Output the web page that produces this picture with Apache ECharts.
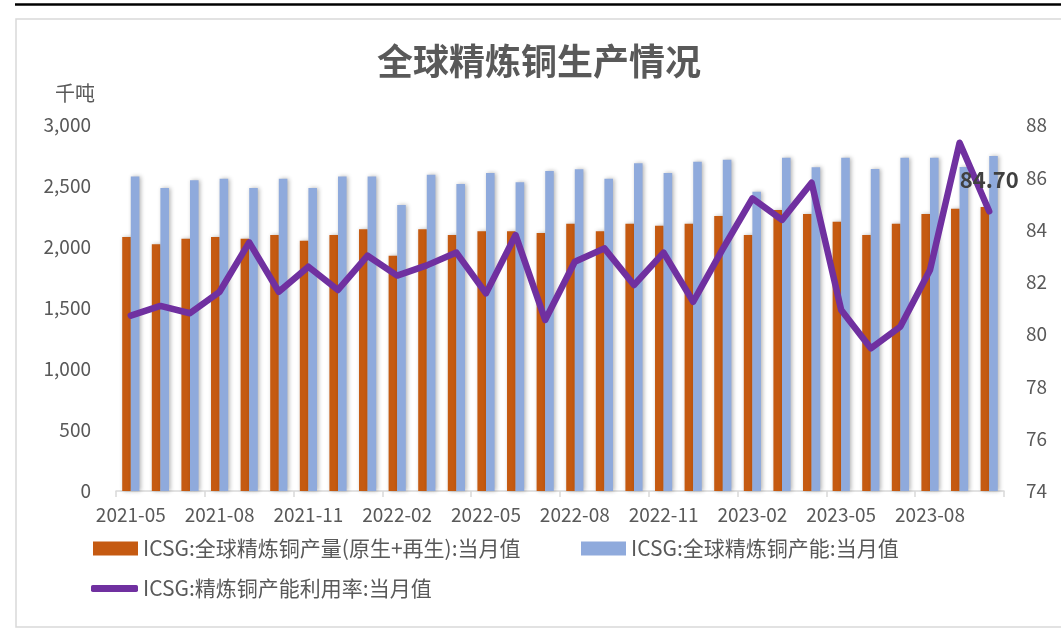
<!DOCTYPE html>
<html>
<head>
<meta charset="utf-8">
<script src="https://cdn.jsdelivr.net/npm/echarts@6/dist/echarts.min.js"></script>
<style>
html,body{margin:0;padding:0;background:#fff;}
#chart{width:1061px;height:634px;}
</style>
</head>
<body>
<div id="chart"></div>
<script>
var categories = ['2021-05','2021-06','2021-07','2021-08','2021-09','2021-10','2021-11','2021-12',
  '2022-01','2022-02','2022-03','2022-04','2022-05','2022-06','2022-07','2022-08','2022-09','2022-10',
  '2022-11','2022-12','2023-01','2023-02','2023-03','2023-04','2023-05','2023-06','2023-07','2023-08',
  '2023-09','2023-10'];
var production = [2082, 2022, 2068, 2082, 2068, 2098, 2052, 2098, 2145, 1929, 2145, 2098, 2129, 2129, 2115,
  2191, 2129, 2191, 2175, 2191, 2254, 2098, 2303, 2270, 2207, 2098, 2191, 2270, 2314, 2328];
var capacity = [2577, 2484, 2547, 2560, 2484, 2560, 2484, 2577, 2577, 2344, 2593, 2517, 2607, 2530, 2623,
  2637, 2560, 2686, 2607, 2699, 2716, 2453, 2732, 2653, 2732, 2639, 2732, 2732, 2656, 2746];
var utilization = [80.71, 81.08, 80.80, 81.62, 83.51, 81.62, 82.58, 81.69, 83.00, 82.24, 82.63, 83.12, 81.56,
  83.79, 80.54, 82.77, 83.28, 81.88, 83.12, 81.24, 83.26, 85.19, 84.37, 85.79, 80.92, 79.46, 80.29, 82.45,
  87.32, 84.70];
var leftTicks = {min: 0, max: 3000, interval: 500};
var rightTicks = {min: 74, max: 88, interval: 2};
var names = ['ICSG:全球精炼铜产量(原生+再生):当月值', 'ICSG:全球精炼铜产能:当月值', 'ICSG:精炼铜产能利用率:当月值'];

var FONT = '"Noto Sans CJK SC", "Noto Sans", sans-serif';
var GRAY = '#595959';
var chart = echarts.init(document.getElementById('chart'), null, {renderer: 'canvas'});
var lastIdx = utilization.length - 1;

chart.setOption({
  animation: false,
  backgroundColor: '#fff',
  textStyle: {fontFamily: FONT},
  title: {
    text: '全球精炼铜生产情况',
    left: 377, top: 43, padding: 0,
    textStyle: {fontFamily: FONT, fontSize: 36, fontWeight: 'bold', color: GRAY}
  },
  graphic: [
    {type: 'line', shape: {x1: 15, y1: 4.5, x2: 1061, y2: 4.5}, style: {stroke: '#000', lineWidth: 2.5}},
    {type: 'rect', shape: {x: 16, y: 19, width: 1070, height: 608}, style: {fill: 'none', stroke: '#D9D9D9', lineWidth: 1.5}},
    {type: 'text', x: 75, y: 93, style: {text: '千吨', fill: GRAY, font: '20px ' + FONT, textAlign: 'center', textVerticalAlign: 'middle'}}
  ],
  legend: [
    {data: [{name: names[0], icon: 'rect'}], left: 93, top: 538, padding: 0, itemWidth: 45, itemHeight: 14,
      itemStyle: {shadowBlur: 0}, textStyle: {fontFamily: FONT, fontSize: 21, color: GRAY}},
    {data: [{name: names[1], icon: 'rect'}], left: 581, top: 538, padding: 0, itemWidth: 45, itemHeight: 14,
      itemStyle: {shadowBlur: 0}, textStyle: {fontFamily: FONT, fontSize: 21, color: GRAY}},
    {data: [{name: names[2], icon: 'roundRect'}], left: 91, top: 578, padding: 0, itemWidth: 47, itemHeight: 7,
      itemStyle: {shadowBlur: 0}, textStyle: {fontFamily: FONT, fontSize: 21, color: GRAY}}
  ],
  grid: {left: 116, right: 57, top: 125, bottom: 143},
  xAxis: {
    type: 'category',
    data: categories,
    boundaryGap: true,
    axisLine: {lineStyle: {color: '#D9D9D9', width: 1.5}},
    axisTick: {show: true, interval: 2, length: 6, alignWithLabel: false, lineStyle: {color: '#D9D9D9', width: 1.5}},
    axisLabel: {interval: 2, color: GRAY, fontSize: 19, fontFamily: FONT, margin: 14}
  },
  yAxis: [
    {
      type: 'value', min: leftTicks.min, max: leftTicks.max, interval: leftTicks.interval,
      splitLine: {show: false}, axisLine: {show: false}, axisTick: {show: false},
      axisLabel: {color: GRAY, fontSize: 19, fontFamily: FONT, margin: 25,
        formatter: function (v) { return v.toLocaleString('en-US'); }}
    },
    {
      type: 'value', min: rightTicks.min, max: rightTicks.max, interval: rightTicks.interval,
      splitLine: {show: false}, axisLine: {show: false}, axisTick: {show: false},
      axisLabel: {color: GRAY, fontSize: 19, fontFamily: FONT, margin: 22}
    }
  ],
  series: [
    {
      name: names[0], type: 'bar', yAxisIndex: 0, data: production,
      barGap: '0%', barCategoryGap: '42%',
      itemStyle: {color: '#C55A11', shadowBlur: 4, shadowColor: 'rgba(0,0,0,0.3)', shadowOffsetX: 1.5, shadowOffsetY: 0}
    },
    {
      name: names[1], type: 'bar', yAxisIndex: 0, data: capacity,
      barGap: '0%', barCategoryGap: '42%',
      itemStyle: {color: '#8FAADC', shadowBlur: 4, shadowColor: 'rgba(0,0,0,0.3)', shadowOffsetX: 1.5, shadowOffsetY: 0}
    },
    {
      name: names[2], type: 'line', yAxisIndex: 1, data: utilization,
      showSymbol: true, symbol: 'circle', symbolSize: 0.1, z: 5,
      lineStyle: {color: '#7030A0', width: 6.5, cap: 'round', join: 'round'},
      itemStyle: {color: '#7030A0'},
      label: {
        show: true, position: 'top', distance: 21,
        fontFamily: FONT, fontSize: 22, fontWeight: 'bold', color: '#404040',
        offset: [-2, 0],
        formatter: function (p) { return p.dataIndex === lastIdx ? p.value.toFixed(2) : ''; }
      },
      labelLayout: {hideOverlap: false}
    }
  ]
});
</script>
</body>
</html>
